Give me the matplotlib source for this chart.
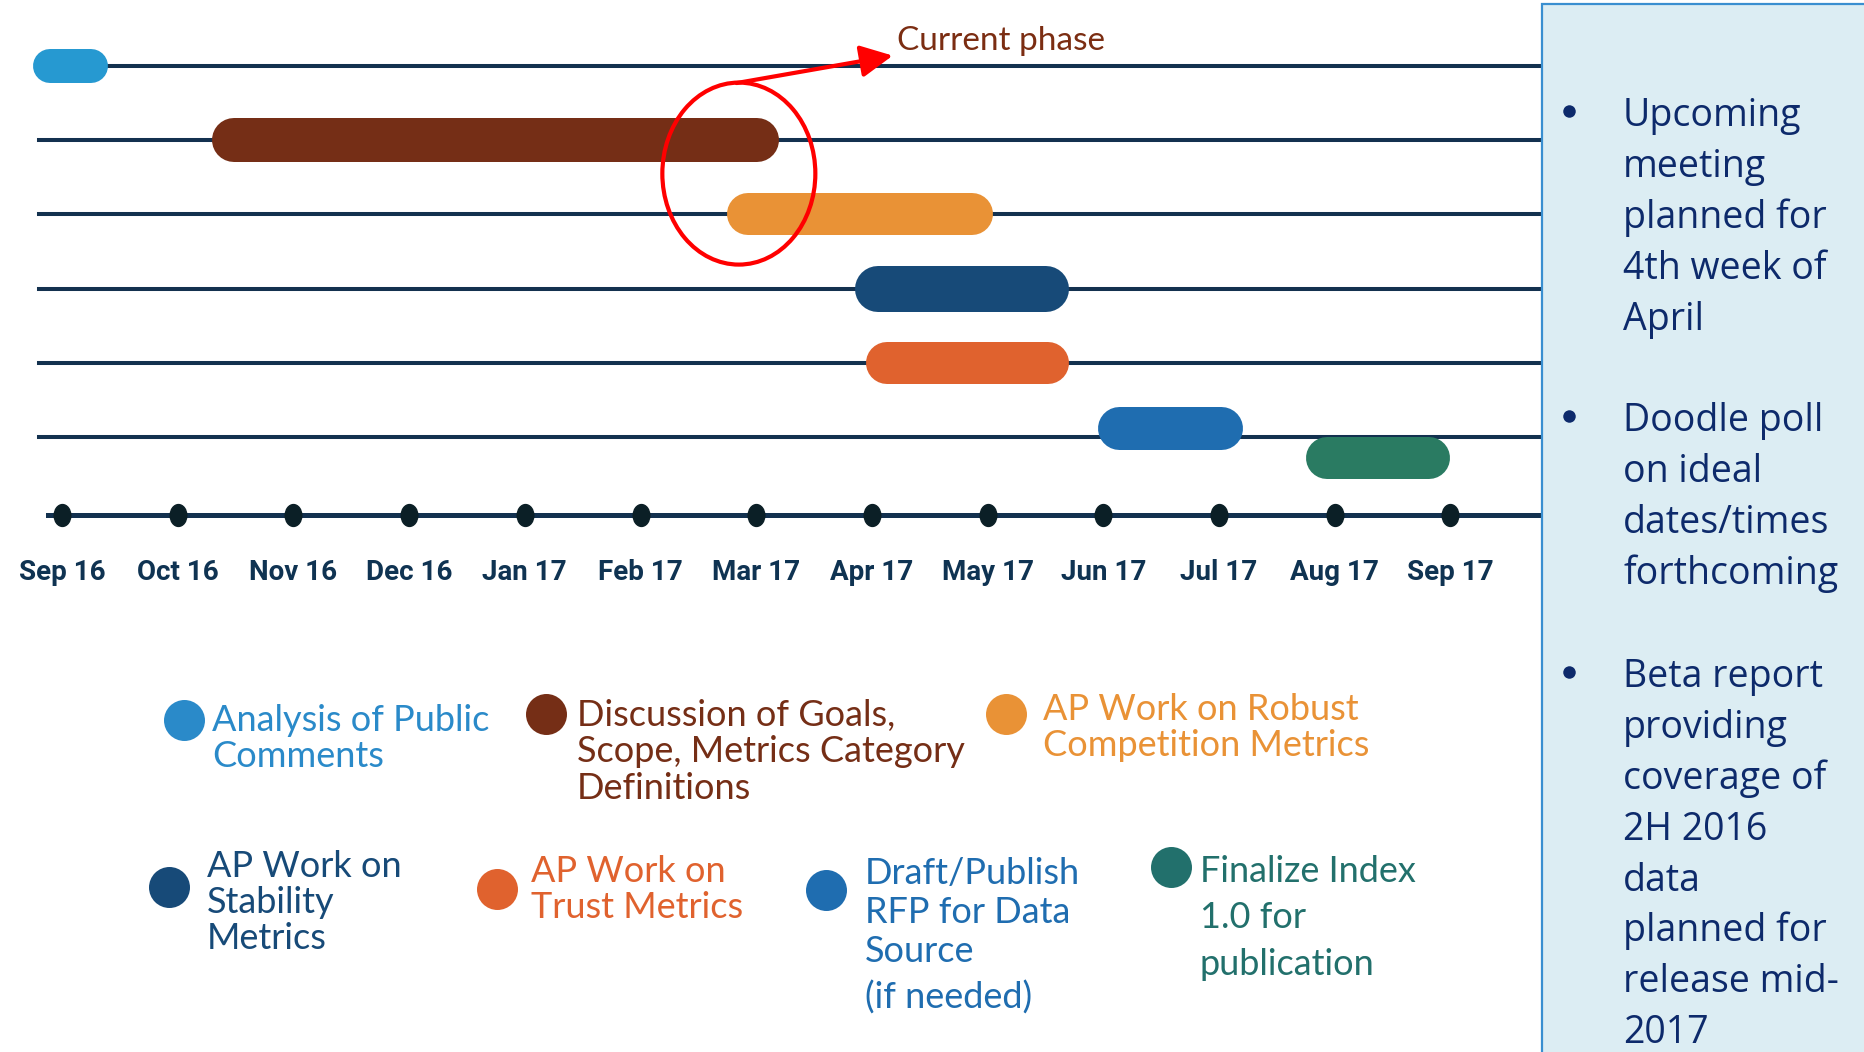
import matplotlib.pyplot as plt
from matplotlib.patches import Ellipse, Rectangle
from matplotlib.markers import MarkerStyle
from matplotlib.transforms import Affine2D

plt.rcParams["font.family"] = ["Lato", "DejaVu Sans"]

W, H = 1864, 1052

months = ["Sep 16", "Oct 16", "Nov 16", "Dec 16", "Jan 17", "Feb 17", "Mar 17",
          "Apr 17", "May 17", "Jun 17", "Jul 17", "Aug 17", "Sep 17"]

# tasks: label, lane, start / end in months after Sep 16
tasks = ["Analysis of Public\nComments",
         "Discussion of Goals,\nScope, Metrics Category\nDefinitions",
         "AP Work on Robust\nCompetition Metrics",
         "AP Work on\nStability\nMetrics",
         "AP Work on\nTrust Metrics",
         "Draft/Publish\nRFP for Data\nSource\n(if needed)",
         "Finalize Index\n1.0 for\npublication"]
task_lane = [0, 1, 2, 3, 4, 4.88, 5.28]
task_start = [-0.25, 1.3, 5.75, 6.85, 6.95, 8.95, 10.75]
task_end = [0.4, 6.2, 8.05, 8.7, 8.7, 10.2, 12.0]
lanes = [0, 1, 2, 3, 4, 5]

notes = ["Upcoming\nmeeting\nplanned for\n4th week of\nApril",
         "Doodle poll\non ideal\ndates/times\nforthcoming",
         "Beta report\nproviding\ncoverage of\n2H 2016\ndata\nplanned for\nrelease mid-\n2017"]

# styles
bar_colors = ["#2699d1", "#752e16", "#e99236", "#174a78", "#e0622e", "#1f6db0", "#2a7b62"]
text_colors = ["#2a8ac9", "#752e16", "#e99236", "#174a78", "#e0622e", "#1f6db0", "#22706c"]
bar_px = [34, 44, 42, 46, 42, 43, 42]
LINE = "#13314f"

X0, DX = 62, 115.7   # pixel of Sep 16, pixels per month
Y0, DY = 66, 74.2    # pixel of first lane, pixels per lane
AX_W, AX_H = 1542, 600

fig = plt.figure(figsize=(W / 100, H / 100), dpi=100)
ax = fig.add_axes([0, 1 - AX_H / H, AX_W / W, AX_H / H])
ax.set_xlim(-X0 / DX, (AX_W - X0) / DX)
ax.set_ylim((AX_H - Y0) / DY, -Y0 / DY)
ax.axis("off")

# lanes
for r in lanes:
    ax.axhline(r, xmin=39 / AX_W, xmax=1, color=LINE, lw=2.9, zorder=1)

# time axis with month dots
axis_row = len(lanes) + 0.05
ax.axhline(axis_row, xmin=48 / AX_W, xmax=1, color=LINE, lw=3.6, zorder=1)
dot = MarkerStyle("o", transform=Affine2D().scale(0.8, 1.05))
ax.plot(range(len(months)), [axis_row] * len(months), ls="none", marker=dot,
        ms=15, color="#0b1f26", zorder=2)
for i, m in enumerate(months):
    ax.text(i, axis_row + 65 / DY, m, ha="center", va="baseline", fontsize=20,
            fontweight="bold", color="#0f3352", family=["Roboto", "DejaVu Sans"])

# pill shaped bars
for s, e, r, c, h in zip(task_start, task_end, task_lane, bar_colors, bar_px):
    cap = h / 2 / DX
    ax.plot([s + cap, e - cap], [r, r], lw=h * 0.72, color=c,
            solid_capstyle="round", zorder=3)

# current phase marker
ax.add_patch(Ellipse((5.85, 1.45), 153 / DX, 182 / DY, fill=False, ec="#ff0000",
                     lw=3, zorder=5))
ax.annotate("", xy=(7.18, -0.14), xytext=(5.83, 0.23),
            arrowprops=dict(arrowstyle="-|>,head_length=0.7,head_width=0.35",
                            color="#ff0000", lw=3, shrinkA=0, shrinkB=0,
                            mutation_scale=28), zorder=5)
ax.text(7.22, -0.38 + 12 / DY, "Current phase", fontsize=24, color="#7b2d12",
        ha="left", va="baseline")

# overlay in pixel units for legend and side panel
lay = fig.add_axes([0, 0, 1, 1])
lay.set_xlim(0, W)
lay.set_ylim(H, 0)
lay.axis("off")

# circle x, circle y, text x, first line centre, line gap
legend_pos = [(184, 720, 212, 718, 36), (546, 714, 577, 713, 36.5),
              (1006, 714, 1043, 707, 36), (169, 887, 207, 864, 36),
              (497, 889, 531, 869, 36), (826, 890, 865, 871, 39),
              (1171, 867, 1200, 869, 46.5)]
for label, tc, (cx, cy, tx, ty, gap) in zip(tasks, text_colors, legend_pos):
    lay.plot(cx, cy, "o", ms=41 * 0.72, color=tc, mec="none")
    y = ty + 13
    for k, line in enumerate(label.split("\n")):
        if line.startswith("("):
            y += 8  # the bracket note sits a little lower
        lay.text(tx, y, line, fontsize=26, color=tc, ha="left", va="baseline")
        y += gap

# side panel
lay.add_patch(Rectangle((1542, 4), 340, 1060, fc="#dcedf3", ec="#3a8fd0", lw=1.6))
note_y = [113, 418, 674]
for txt, y0 in zip(notes, note_y):
    lay.plot(1569, y0 - 2, "o", ms=9, color="#0d2a6b", mec="none")
    for k, line in enumerate(txt.split("\n")):
        lay.text(1623, y0 + k * 50.8 + 13.4, line, fontsize=27, color="#0d2a6b",
                 ha="left", va="baseline", family=["Open Sans", "DejaVu Sans"])

fig.savefig("out.png", dpi=100)
